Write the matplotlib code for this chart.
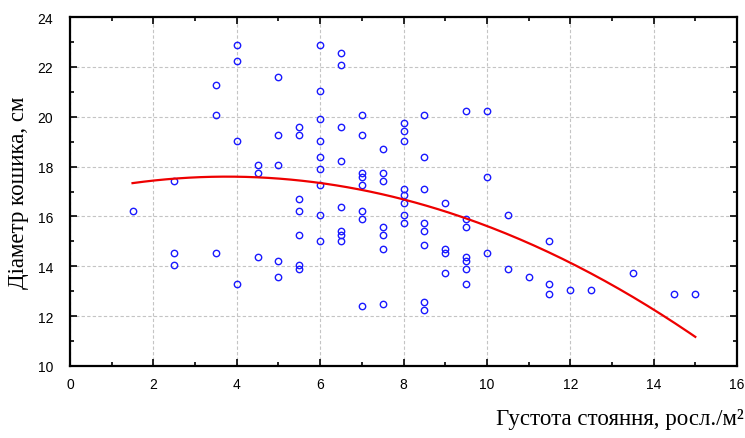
import numpy as np
import matplotlib.pyplot as plt
from matplotlib.ticker import MultipleLocator

# plant density (plants/m2) and head diameter (cm)
density = [1.5,
           2.5, 2.5, 2.5,
           3.5, 3.5, 3.5,
           4, 4, 4, 4,
           4.5, 4.5, 4.5,
           5, 5, 5, 5, 5,
           5.5, 5.5, 5.5, 5.5, 5.5, 5.5, 5.5,
           6, 6, 6, 6, 6, 6, 6, 6, 6,
           6.5, 6.5, 6.5, 6.5, 6.5, 6.5, 6.5, 6.5,
           7, 7, 7, 7, 7, 7, 7, 7,
           7.5, 7.5, 7.5, 7.5, 7.5, 7.5, 7.5,
           8, 8, 8, 8, 8, 8, 8, 8,
           8.5, 8.5, 8.5, 8.5, 8.5, 8.5, 8.5, 8.5,
           9, 9, 9, 9,
           9.5, 9.5, 9.5, 9.5, 9.5, 9.5, 9.5,
           10, 10, 10,
           10.5, 10.5,
           11,
           11.5, 11.5, 11.5,
           12, 12.5, 13.5, 14.5, 15]
diameter = [16.23,
            17.43, 14.55, 14.07,
            21.27, 20.07, 14.55,
            22.88, 22.23, 19.03, 13.27,
            18.07, 17.75, 14.39,
            21.59, 19.27, 18.07, 14.23, 13.59,
            19.59, 19.27, 16.71, 16.23, 15.27, 14.07, 13.91,
            22.88, 21.03, 19.91, 19.03, 18.39, 17.91, 17.27, 16.07, 15.03,
            22.55, 22.07, 19.59, 18.23, 16.39, 15.43, 15.27, 15.03,
            20.07, 19.27, 17.75, 17.59, 17.27, 16.23, 15.91, 12.39,
            18.71, 17.75, 17.43, 15.59, 15.27, 14.71, 12.47,
            19.75, 19.43, 19.03, 17.11, 16.87, 16.55, 16.07, 15.75,
            20.07, 18.39, 17.11, 15.75, 15.43, 14.87, 12.55, 12.23,
            16.55, 14.71, 14.55, 13.75,
            20.23, 15.91, 15.59, 14.39, 14.23, 13.91, 13.27,
            20.23, 17.59, 14.55,
            16.07, 13.91,
            13.59,
            15.03, 13.27, 12.87,
            13.03, 13.03, 13.75, 12.87, 12.87]

x = np.array(density)
y = np.array(diameter)

# quadratic trend
coef = np.polyfit(x, y, 2)
xs = np.linspace(x.min(), x.max(), 200)
ys = np.polyval(coef, xs)

fig = plt.figure(figsize=(7.45, 4.39), dpi=100)
ax = fig.add_axes([70 / 745, 1 - 367 / 439, 667 / 745, 349 / 439])

ax.plot(x, y, linestyle='', marker='o', markersize=4.6, markerfacecolor='none',
        markeredgecolor='#1a1aff', markeredgewidth=1.0, zorder=3)
ax.plot(xs, ys, color='#ee0000', linewidth=1.6, zorder=4)

ax.set_xlim(0, 16)
ax.set_ylim(10, 24)
ax.xaxis.set_major_locator(MultipleLocator(2))
ax.xaxis.set_minor_locator(MultipleLocator(1))
ax.yaxis.set_major_locator(MultipleLocator(2))
ax.yaxis.set_minor_locator(MultipleLocator(1))
ax.tick_params(which='both', direction='in', top=True, right=True,
               labelsize=10, width=1.2)
ax.tick_params(which='major', length=5)
ax.tick_params(axis='x', which='major', pad=8)
ax.tick_params(axis='y', which='major', pad=12)
ax.tick_params(which='minor', length=3)
for lab in ax.get_xticklabels() + ax.get_yticklabels():
    lab.set_family('Liberation Sans')
for s in ax.spines.values():
    s.set_linewidth(1.6)

ax.grid(True, which='major', linestyle=(0, (3, 2)), color='#c4c4c4', linewidth=0.8)
ax.set_axisbelow(True)

ax.set_ylabel('Діаметр кошика, см', family='Liberation Serif', fontsize=16.5,
              labelpad=6)
fig.text(744 / 745, 1 - 420 / 439, 'Густота стояння, росл./м²', ha='right',
         va='center', family='Liberation Serif', fontsize=16.5)

plt.savefig('out.png', dpi=100)
